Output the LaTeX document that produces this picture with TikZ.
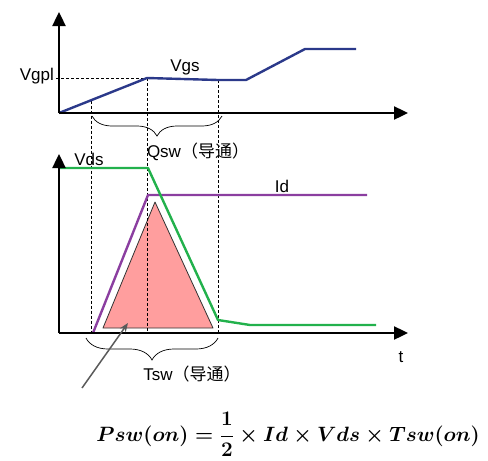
\documentclass[tikz,border=0pt]{standalone}
\usepackage{fontspec}
\setmainfont{Liberation Sans}
\newfontfamily\cjk{Noto Sans CJK SC}
\usetikzlibrary{arrows.meta,decorations.pathreplacing}
\definecolor{vgscol}{RGB}{43,57,138}
\definecolor{vdscol}{RGB}{34,177,76}
\definecolor{idcol}{RGB}{139,62,160}
\definecolor{tricol}{RGB}{255,158,158}
\definecolor{pointer}{RGB}{90,90,90}
\newcommand{\formulatext}{$\displaystyle Psw(on)=\frac{1}{2}\times Id\times Vds\times Tsw(on)$}
\begin{document}
\begin{tikzpicture}[x=1pt,y=-1pt,
  axis/.style={line width=2.4pt,-{Triangle[length=14pt,width=13pt]}},
  guide/.style={line width=0.6pt,dash pattern=on 3pt off 2pt},
  lbl/.style={font=\fontsize{17}{19}\selectfont,inner sep=0pt},
  wave/.style={line width=2.4pt,line join=round},
  bracestyle/.style={line width=0.7pt,decorate,decoration={brace,mirror,amplitude=#1}}]
\useasboundingbox (0,0) rectangle (488,461);
% top axes
\coordinate (o1) at (59,113);
\coordinate (y1) at (59,12);
\coordinate (x1) at (408,113);
% bottom axes
\coordinate (o2) at (59,333);
\coordinate (y2) at (59,154);
\coordinate (x2) at (408,333);
% Vgs points
\coordinate (g1) at (147,78);
\coordinate (g2) at (218,80);
\coordinate (g3) at (246,80);
\coordinate (g4) at (305,49);
\coordinate (g5) at (356,49);
\coordinate (gpl) at (56,78);
\coordinate (ga) at (91,100.6);
% guide bottoms
\coordinate (b1) at (91,333);
\coordinate (b2) at (147,333);
\coordinate (b3) at (218,333);
% Vds points
\coordinate (d0) at (59,168);
\coordinate (d1) at (148,168);
\coordinate (d2) at (218,320);
\coordinate (d3) at (250,325);
\coordinate (d4) at (376,325);
% Id points
\coordinate (i0) at (93,333);
\coordinate (i1) at (148,195);
\coordinate (i2) at (367,195);
% triangle
\coordinate (t1) at (103,328);
\coordinate (t2) at (155,202);
\coordinate (t3) at (213,328);
% braces
\coordinate (qa) at (92,116);
\coordinate (qb) at (222,116);
\coordinate (ta) at (86,338);
\coordinate (tb) at (218,338);
% pointer
\coordinate (pa) at (82,388);
\coordinate (pb) at (128,323);

\filldraw[fill=tricol,draw=black!80,line width=0.8pt,line join=round] (t1) -- (t2) -- (t3) -- cycle;

\draw[guide] (gpl) -- (g1);
\draw[guide] (ga) -- (b1);
\draw[guide] (g1) -- (b2);
\draw[guide] (g2) -- (b3);

\draw[wave,vgscol] (o1) -- (g1) -- (g2) -- (g3) -- (g4) -- (g5);
\draw[wave,idcol] (i0) -- (i1) -- (i2);
\draw[wave,vdscol] (d0) -- (d1) -- (d2) -- (d3) -- (d4);

\draw[axis] (o1) -- (y1);
\draw[axis] (o1) -- (x1);
\draw[axis] (o2) -- (y2);
\draw[axis] (o2) -- (x2);

\draw[bracestyle=20pt] (qa) -- (qb);
\draw[bracestyle=22pt] (ta) -- (tb);

\draw[pointer,line width=1.5pt,-{Stealth[length=9pt,width=7pt]}] (pa) -- (pb);

\node[lbl,anchor=east] (lvgpl) at (54,76) {Vgpl};
\node[lbl] (lvgs) at (185,67) {Vgs};
\node[lbl] (lqsw) at (198,152) {Qsw{\cjk （导通）}};
\node[lbl] (lvds) at (89,159) {Vds};
\node[lbl] (lid) at (282,186) {Id};
\node[lbl] (lt) at (401,357) {t};
\node[lbl] (ltsw) at (192,374) {Tsw{\cjk （导通）}};
\node[inner sep=0pt,anchor=base,font=\fontsize{22}{26}\selectfont\boldmath] (formula) at (288,441) {\formulatext};
\end{tikzpicture}
\end{document}
